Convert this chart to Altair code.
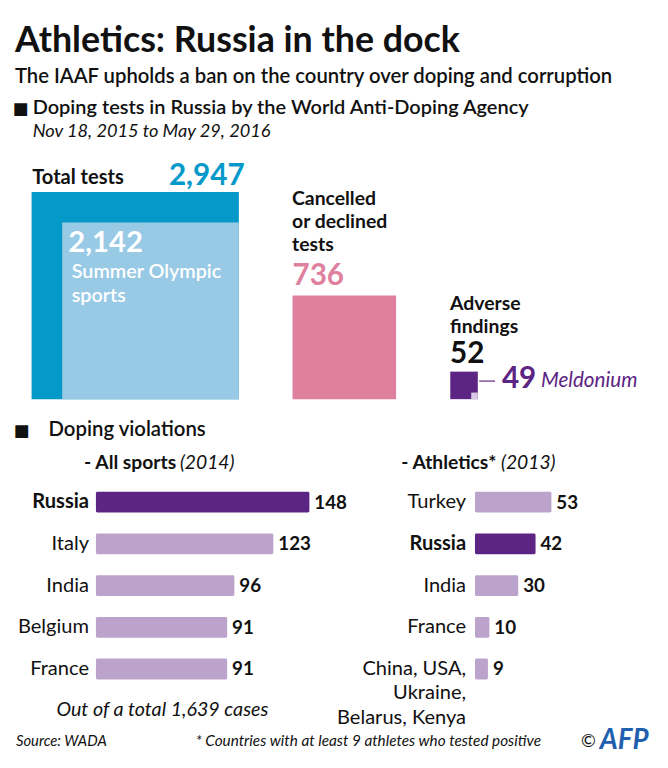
import math
import altair as alt
import pandas as pd

FONT = "Lato"
OFF = 8  # page margin: chart origin sits at page (8, 8)

# ---------------- data ----------------
square_labels = ["Total tests", "Summer Olympic sports", "Cancelled or declined tests",
                 "Adverse findings", "Meldonium"]
square_values = [2947, 2142, 736, 52, 49]

all_sports_countries = ["Russia", "Italy", "India", "Belgium", "France"]
all_sports_values = [148, 123, 96, 91, 91]

athletics_countries = ["Turkey", "Russia", "India", "France",
                       "China, USA,\nUkraine,\nBelarus, Kenya"]
athletics_values = [53, 42, 30, 10, 9]

# ---------------- styles ----------------
BLUE = "#0499c9"
LBLUE = "#98c9e5"
PINK = "#de809e"
PURPLE = "#5c2483"
LPURPLE = "#bca3cc"
CORNER = "#d9c8e6"
INK = "#111111"

K = 3.865      # px per sqrt(test) -> square area proportional to count
KB = 1.46      # px per case for bars
LAB = 20.3     # country label font size
VAL = 19       # bar value font size


def label(text, x, y, size, weight="normal", style="normal", color=INK,
          align="left", baseline="alphabetic", line_height=None, font=FONT):
    props = dict(font=font, fontSize=size, fontWeight=weight, fontStyle=style,
                 color=color, align=align, baseline=baseline)
    if "\n" in text:
        props["lineBreak"] = "\n"
        props["lineHeight"] = line_height or size * 1.21
    return alt.Chart(pd.DataFrame({"t": [text]})).mark_text(**props).encode(
        x=alt.value(x - OFF), y=alt.value(y - OFF), text="t:N")


def square_layer(rows, x_anchor, y_anchor, x_dir):
    xs = alt.Scale(domain=[0, 1], range=[x_anchor - OFF, x_anchor - OFF + x_dir * K],
                   nice=False, zero=False)
    ys = alt.Scale(domain=[0, 1], range=[y_anchor - OFF, y_anchor - OFF - K],
                   nice=False, zero=False)
    return alt.Chart(pd.DataFrame(rows)).mark_rect().encode(
        x=alt.X("x0:Q", scale=xs, axis=None), x2="x1:Q",
        y=alt.Y("y0:Q", scale=ys, axis=None), y2="y1:Q",
        color=alt.Color("c:N", scale=None))


def sq(v):
    return math.sqrt(v)


total, summer, cancelled, adverse, meldonium = square_values

sq_total = square_layer([
    {"x0": 0, "x1": sq(total), "y0": 0, "y1": sq(total), "c": BLUE},
    {"x0": 0, "x1": sq(summer), "y0": 0, "y1": sq(summer), "c": LBLUE},
], 241.7, 399.3, -1)

sq_cancel = square_layer([
    {"x0": 0, "x1": sq(cancelled), "y0": 0, "y1": sq(cancelled), "c": PINK},
], 296, 399.3, 1)

rest = adverse - meldonium
sq_adverse = square_layer([
    {"x0": 0, "x1": sq(adverse), "y0": 0, "y1": sq(adverse), "c": PURPLE},
    {"x0": sq(adverse) - sq(rest), "x1": sq(adverse), "y0": 0, "y1": sq(rest), "c": CORNER},
], 455.7, 399.3, 1)

connector = alt.Chart(pd.DataFrame({"a": [0]})).mark_rule(color=PURPLE, strokeWidth=1.2).encode(
    x=alt.value(485 - OFF), x2=alt.value(501 - OFF), y=alt.value(381 - OFF))

# ---------------- bar blocks ----------------
ROW0 = 503.5     # page y of first bar centre
STEP = 42.25


def bar_block(countries, values, x_start, label_right):
    df = pd.DataFrame({"country": countries, "value": values})
    vmax = max(values)
    xs = alt.Scale(domain=[0, vmax], range=[x_start - OFF, x_start - OFF + KB * vmax],
                   nice=False, zero=False)
    top = ROW0 - OFF - STEP / 2
    ys = alt.Scale(domain=countries, range=[top, top + STEP * len(countries)],
                   paddingInner=0.5, paddingOuter=0.25)
    y = alt.Y("country:N", scale=ys, axis=None, sort=countries)
    base = alt.Chart(df)
    bars = base.mark_bar(cornerRadius=1.5).encode(
        x=alt.X("value:Q", scale=xs, axis=None), x2=alt.datum(0), y=y,
        color=alt.when(alt.datum.country == "Russia").then(alt.value(PURPLE))
                 .otherwise(alt.value(LPURPLE)))
    vals = base.mark_text(font=FONT, fontSize=VAL, fontWeight="bold", color=INK,
                          align="left", baseline="middle", dx=5, dy=0.5).encode(
        x=alt.X("value:Q", scale=xs, axis=None), y=y, text="value:Q")
    lab_common = dict(font=FONT, fontSize=LAB, color=INK, align="right", baseline="top",
                      dy=-10, lineBreak="\n", lineHeight=24.6)
    lab_norm = base.transform_filter(alt.datum.country != "Russia").mark_text(
        fontWeight="normal", **lab_common).encode(
        x=alt.value(label_right - OFF), y=y, text="country:N")
    lab_bold = base.transform_filter(alt.datum.country == "Russia").mark_text(
        fontWeight="bold", **lab_common).encode(
        x=alt.value(label_right - OFF), y=y, text="country:N")
    return [bars, vals, lab_norm, lab_bold]


left_layers = bar_block(all_sports_countries, all_sports_values, 97, 90)
right_layers = bar_block(athletics_countries, athletics_values, 480.7, 471.7)

# ---------------- texts ----------------
texts = [
    label("Athletics: Russia in the dock", 15, 48, 36.2, weight="bold"),
    label("The IAAF upholds a ban on the country over doping and corruption", 15, 79, 20.5, weight=600),
    label("■", 13, 111, 17, font="DejaVu Sans"),
    label("Doping tests in Russia by the World Anti-Doping Agency", 33, 111, 20.2, weight=600),
    label("Nov 18, 2015 to May 29, 2016", 33, 134, 18.4, style="italic"),
    label("Total tests", 32.5, 182, 20.3, weight="bold"),
    label("2,947", 247.5, 183, 30, weight="bold", color=BLUE, align="right"),
    label("2,142", 69, 250, 29.6, weight="bold", color="#ffffff"),
    label("Summer Olympic\nsports", 72.5, 276.7, 20, weight=600, color="#ffffff", line_height=24.2),
    label("Cancelled\nor declined\ntests", 295.5, 202.5, 19.6, weight="bold", line_height=23.55),
    label("736", 296, 284, 30, weight="bold", color=PINK),
    label("Adverse\nfindings", 455.5, 309, 19.6, weight="bold", line_height=23.7),
    label("52", 455.5, 363, 30, weight="bold"),
    label("49", 508, 388, 30, weight="bold", color=PURPLE),
    label("Meldonium", 547.5, 387, 20.9, style="italic", color=PURPLE),
    label("■", 14, 437, 17, font="DejaVu Sans"),
    label("Doping violations", 49, 437, 20.6, weight=600),
    label("- All sports", 85, 470, 19.5, weight="bold"),
    label("(2014)", 182, 470, 19.5, style="italic"),
    label("- Athletics*", 406, 470, 19.5, weight="bold"),
    label("(2013)", 507, 470, 19.5, style="italic"),
    label("Out of a total 1,639 cases", 57, 720, 19.9, style="italic"),
    label("Source: WADA", 16, 750, 15, style="italic"),
    label("* Countries with at least 9 athletes who tested positive", 198, 750, 15.5, style="italic"),
    label("©", 588, 751, 18),
    label("AFP", 607, 753, 28, weight="bold", style="italic", color="#1f5fae"),
]

chart = alt.layer(
    sq_total, sq_cancel, sq_adverse, connector,
    *left_layers, *right_layers, *texts
).resolve_scale(x="independent", y="independent").properties(
    width=660, height=760, padding=0, autosize=alt.AutoSizeParams(type="none"),
    background="#ffffff"
).configure_view(stroke=None)

chart.save("out.html", embed_options={"renderer": "svg", "actions": False})
